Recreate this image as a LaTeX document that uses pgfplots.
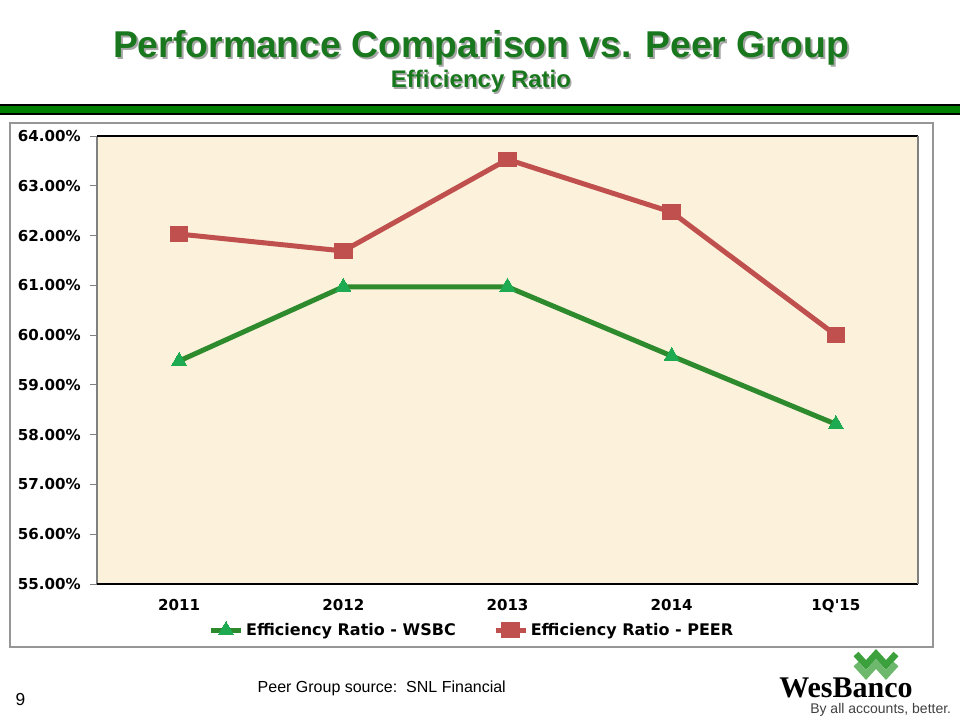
\documentclass[border=0pt]{standalone}
\usepackage{fontspec}
\usepackage{pgfplots}
\pgfplotsset{compat=1.18}
\setmainfont{Liberation Sans}
\newfontfamily\dv{DejaVu Sans}
\newfontfamily\lserif{Liberation Serif}
\definecolor{titlegreen}{RGB}{25,120,30}
\definecolor{bargreen}{RGB}{0,128,0}
\definecolor{wsbcline}{RGB}{45,138,45}
\definecolor{wsbcmark}{RGB}{30,170,80}
\definecolor{peer}{RGB}{192,80,77}
\definecolor{parch}{RGB}{252,242,220}
\definecolor{framegray}{RGB}{150,150,150}
\definecolor{logogreen}{RGB}{60,160,60}
\begin{document}
\begin{tikzpicture}[x=0.75pt,y=0.75pt]
\useasboundingbox (0,0) rectangle (960,720);
% title with shadow
\node[anchor=base,text=gray!70,font=\bfseries\fontsize{28}{32}\selectfont] at (483,660) {Performance Comparison vs. Peer Group};
\node[anchor=base,text=titlegreen,font=\bfseries\fontsize{28}{32}\selectfont] at (481,662) {Performance Comparison vs. Peer Group};
\node[anchor=base,text=gray!70,font=\bfseries\fontsize{18}{22}\selectfont] at (482.5,630.5) {Efficiency Ratio};
\node[anchor=base,text=titlegreen,font=\bfseries\fontsize{18}{22}\selectfont] at (481,632) {Efficiency Ratio};
% green bar
\fill[bargreen,draw=black,line width=0.9pt] (-2,606) rectangle (962,615);
% outer frame
\draw[framegray,line width=1.4pt] (10,597) rectangle (933,73);
\begin{axis}[
  at={(72.75pt,102pt)}, anchor=south west,
  scale only axis, width=615.75pt, height=336pt,
  xmin=-0.5, xmax=4.5, ymin=55, ymax=64,
  xtick={0,1,2,3,4},
  xticklabels={2011,2012,2013,2014,1Q'15},
  ytick={55,56,...,64},
  yticklabel={\pgfmathprintnumber[fixed,fixed zerofill,precision=2]{\tick}\%},
  /pgf/number format/assume math mode=true,
  ticklabel style={font=\dv\bfseries\fontsize{11.3}{13}\selectfont},
  yticklabel style={xshift=-3.5pt},
  xticklabel style={yshift=-2.5pt},
  tick align=outside,
  major tick length=5.25pt,
  ytick style={draw=gray,line width=0.6pt},
  xtick style={draw=none},
  axis y line*=left,
  axis line style={draw=gray,line width=0.8pt},
  axis background/.style={fill=parch},
  clip=false,
  legend columns=2,
  legend style={at={(0.457,-0.103)},anchor=center,draw=none,fill=none,
     font=\dv\bfseries\fontsize{12}{14}\selectfont,
     /tikz/every even column/.append style={column sep=26pt}},
  legend image code/.code={\draw[mark repeat=2,mark phase=2,#1] plot coordinates {(0pt,0pt) (11.25pt,0pt) (22.5pt,0pt)};},
]
\addplot[wsbcline,line width=3.75pt,mark=triangle*,mark size=6.5pt,
  mark options={solid,fill=wsbcmark,draw=wsbcmark,line width=0pt}]
  coordinates {(0,59.48) (1,60.97) (2,60.97) (3,59.58) (4,58.21)};
\addlegendentry{Efficiency Ratio - WSBC}
\addplot[peer,line width=3.75pt,mark=square*,mark size=5.5pt,
  mark options={solid,fill=peer,draw=peer,line width=0pt,xscale=1.2}]
  coordinates {(0,62.03) (1,61.69) (2,63.53) (3,62.47) (4,60.00)};
\addlegendentry{Efficiency Ratio - PEER}
\draw[black,line width=0.9pt] (rel axis cs:0,0) -- (rel axis cs:1,0);
\draw[black,line width=0.9pt] (rel axis cs:0,1) -- (rel axis cs:1,1);
\draw[gray,line width=0.8pt] (rel axis cs:1,0) -- (rel axis cs:1,1);
\end{axis}
% footer
\node[anchor=base west,font=\fontsize{13}{15}\selectfont] at (11,14) {9};
\node[anchor=base west,font=\fontsize{12}{14}\selectfont] at (253,27) {Peer Group\ source:\ \ SNL Financial};
% logo
\draw[logogreen,line width=5pt,line join=miter] (856,66) -- (866,55) -- (876,66) -- (886,55) -- (896,66);
\draw[logogreen!75!white,line width=5pt,line join=miter] (856,56) -- (866,45) -- (876,56) -- (886,45) -- (896,56);
\node[anchor=base west,inner sep=0pt,font=\lserif\bfseries\fontsize{22.5}{24}\selectfont] at (779,22) {WesBanco};
\node[anchor=base west,inner sep=0pt,text=black!75,font=\fontsize{10.5}{12}\selectfont] at (810,6) {By all accounts, better.};
\end{tikzpicture}
\end{document}
